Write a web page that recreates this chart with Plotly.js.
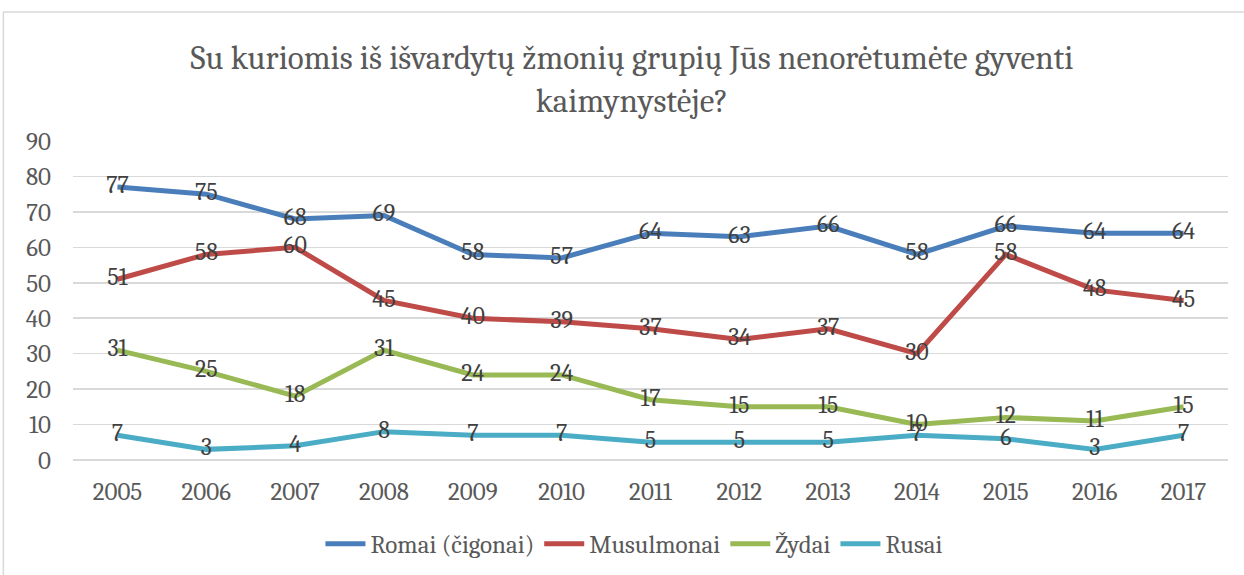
<!DOCTYPE html>
<html>
<head>
<meta charset="utf-8">
<script src="https://cdn.plot.ly/plotly-3.0.1.min.js"></script>
<style>html,body{margin:0;padding:0;background:#fff;}#chart{width:1244px;height:575px;}</style>
</head>
<body>
<div id="chart"></div>
<script>
const years = ["2005","2006","2007","2008","2009","2010","2011","2012","2013","2014","2015","2016","2017"];
const seriesNames = ["Romai (čigonai)", "Musulmonai", "Žydai", "Rusai"];
const romai = [77,75,68,69,58,57,64,63,66,58,66,64,64];
const musulmonai = [51,58,60,45,40,39,37,34,37,30,58,48,45];
const zydai = [31,25,18,31,24,24,17,15,15,10,12,11,15];
const rusai = [7,3,4,8,7,7,5,5,5,7,6,3,7];
const colors = ["#4A7EBB", "#BE4B48", "#98B954", "#4BACC6"];
const titleText = "Su kuriomis iš išvardytų žmonių grupių Jūs nenorėtumėte gyventi<br>kaimynystėje?";

const allSeries = [romai, musulmonai, zydai, rusai];
const serif = "Cambria, 'Liberation Serif', 'DejaVu Serif', serif";

const traces = [];
allSeries.forEach((vals, i) => {
  traces.push({
    x: years, y: vals, name: seriesNames[i], type: 'scatter', mode: 'lines',
    line: {color: colors[i], width: 5}, hoverinfo: 'skip'
  });
});
allSeries.forEach((vals, i) => {
  traces.push({
    x: years, y: vals, type: 'scatter', mode: 'text', showlegend: false,
    text: vals.map(String), textposition: 'middle center',
    textfont: {family: serif, size: 24, color: '#404040'}, hoverinfo: 'skip'
  });
});

const layout = {
  width: 1244, height: 575,
  margin: {l: 72.6, r: 16.4, t: 141, b: 115, pad: 0, autoexpand: false},
  paper_bgcolor: '#ffffff', plot_bgcolor: '#ffffff',
  title: {
    text: titleText, x: 0.508, xref: 'container', xanchor: 'center',
    y: 0.88, yref: 'container', yanchor: 'top',
    font: {family: serif, size: 33, color: '#595959'}
  },
  xaxis: {
    type: 'category', showgrid: false, zeroline: false, showline: false, ticks: '',
    tickfont: {family: serif, size: 25, color: '#595959'}, ticklabelstandoff: 14,
    range: [-0.5, 12.5], fixedrange: true, automargin: false
  },
  yaxis: {
    range: [0, 90], dtick: 10, showgrid: true, gridcolor: '#D9D9D9', gridwidth: 1.5,
    zeroline: true, zerolinecolor: '#D9D9D9', zerolinewidth: 1.5, showline: false, ticks: '',
    tickfont: {family: serif, size: 25, color: '#595959'}, ticklabelstandoff: 21,
    fixedrange: true, automargin: false
  },
  showlegend: true,
  legend: {
    orientation: 'h', x: 0.51, xref: 'container', xanchor: 'center',
    y: 0.054, yref: 'container', yanchor: 'middle',
    font: {family: serif, size: 25, color: '#595959'}, itemwidth: 40,
    traceorder: 'normal', bgcolor: 'rgba(0,0,0,0)'
  },
  shapes: [{
    type: 'rect', xref: 'paper', yref: 'paper',
    x0: -0.0603, x1: 1.03, y0: -0.40, y1: 1.404,
    line: {color: '#D9D9D9', width: 1.5}, fillcolor: 'rgba(0,0,0,0)', layer: 'below'
  }]
};

Plotly.newPlot('chart', traces, layout, {displayModeBar: false, staticPlot: true});
</script>
</body>
</html>
